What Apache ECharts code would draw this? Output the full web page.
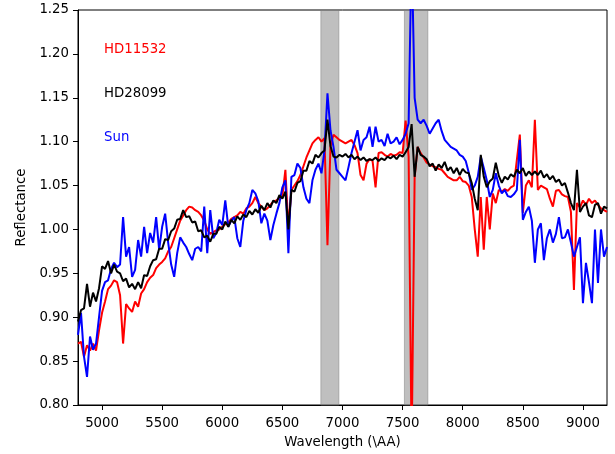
<!DOCTYPE html>
<html>
<head>
<meta charset="utf-8">
<script src="https://cdn.jsdelivr.net/npm/echarts@6.0.0/dist/echarts.min.js"></script>
<style>
  html, body { margin: 0; padding: 0; background: #fff; }
  #chart { width: 615px; height: 454px; }
</style>
</head>
<body>
<div id="chart"></div>
<script>
// wavelength grid (Å), one row per 300 Å
var wavelength = [
  4800, 4825, 4850, 4875, 4900, 4925, 4950, 4975, 5000, 5025, 5050, 5075,
  5100, 5125, 5150, 5175, 5200, 5225, 5250, 5275, 5300, 5325, 5350, 5375,
  5400, 5425, 5450, 5475, 5500, 5525, 5550, 5575, 5600, 5625, 5650, 5675,
  5700, 5725, 5750, 5775, 5800, 5825, 5850, 5875, 5900, 5925, 5950, 5975,
  6000, 6025, 6050, 6075, 6100, 6125, 6150, 6175, 6200, 6225, 6250, 6275,
  6300, 6325, 6350, 6375, 6400, 6425, 6450, 6475, 6500, 6525, 6550, 6575,
  6600, 6625, 6650, 6675, 6700, 6725, 6750, 6775, 6800, 6825, 6850, 6875,
  6900, 6925, 6950, 6975, 7000, 7025, 7050, 7075, 7100, 7125, 7150, 7175,
  7200, 7225, 7250, 7275, 7300, 7325, 7350, 7375, 7400, 7425, 7450, 7475,
  7500, 7525, 7550, 7575, 7600, 7625, 7650, 7675, 7700, 7725, 7750, 7775,
  7800, 7825, 7850, 7875, 7900, 7925, 7950, 7975, 8000, 8025, 8050, 8075,
  8100, 8125, 8150, 8175, 8200, 8225, 8250, 8275, 8300, 8325, 8350, 8375,
  8400, 8425, 8450, 8475, 8500, 8525, 8550, 8575, 8600, 8625, 8650, 8675,
  8700, 8725, 8750, 8775, 8800, 8825, 8850, 8875, 8900, 8925, 8950, 8975,
  9000, 9025, 9050, 9075, 9100, 9125, 9150, 9175, 9200
];

var hd11532 = [
  0.87, 0.872, 0.855, 0.868, 0.862, 0.87, 0.862, 0.885, 0.905, 0.918, 0.932, 0.936,
  0.942, 0.94, 0.925, 0.87, 0.915, 0.91, 0.906, 0.918, 0.912, 0.927, 0.932, 0.94,
  0.945, 0.948, 0.956, 0.96, 0.963, 0.967, 0.975, 0.98, 0.99, 1.0, 1.01, 1.016,
  1.022, 1.026, 1.025, 1.022, 1.02, 1.016, 1.01, 1.0, 0.995, 0.997, 0.999, 1.0,
  1.003, 1.006, 1.008, 1.012, 1.014, 1.016, 1.02, 1.018, 1.024, 1.026, 1.03, 1.037,
  1.03, 1.026, 1.022, 1.024, 1.028, 1.032, 1.033, 1.036, 1.038, 1.068, 1.002, 1.045,
  1.05, 1.055, 1.062, 1.072, 1.082, 1.09, 1.098, 1.102, 1.105, 1.1, 1.104, 0.982,
  1.095, 1.108, 1.105, 1.102, 1.1, 1.098, 1.1, 1.102, 1.096, 1.087, 1.062, 1.056,
  1.075, 1.08, 1.078, 1.048, 1.087, 1.088, 1.085, 1.083, 1.086, 1.084, 1.085, 1.088,
  1.087, 1.124, 1.083, 0.75, 1.06, 1.094, 1.087, 1.082, 1.076, 1.074, 1.072, 1.071,
  1.069, 1.068, 1.064, 1.06, 1.058, 1.056, 1.056, 1.06, 1.055, 1.054, 1.05, 1.037,
  1.0, 0.969, 1.037, 0.977, 1.037, 1.0, 1.041, 1.03, 1.045, 1.043, 1.046, 1.044,
  1.048, 1.05, 1.079, 1.108, 1.019, 1.05, 1.056, 1.048, 1.125, 1.045, 1.05, 1.048,
  1.046, 1.035, 1.026, 1.044, 1.045, 1.04, 1.038, 1.037, 1.02, 0.931, 1.03, 1.025,
  1.033, 1.028, 1.035, 1.03, 1.033, 1.028, 1.024, 1.022, 1.02
];

var hd28099 = [
  0.895, 0.908, 0.91, 0.938, 0.912, 0.928, 0.918, 0.933, 0.958, 0.955, 0.964, 0.95,
  0.96, 0.952, 0.95, 0.941, 0.944, 0.934, 0.938, 0.932, 0.94, 0.933, 0.948, 0.947,
  0.958, 0.965, 0.966, 0.978, 0.978, 0.989, 0.988, 0.998, 1.001, 1.011, 1.012, 1.022,
  1.014, 1.015, 1.008, 1.009, 0.998, 0.999, 0.991, 0.993, 0.986, 0.995, 0.995, 1.003,
  1.0, 1.009, 1.003, 1.011, 1.007, 1.015, 1.011, 1.017, 1.014, 1.021, 1.017, 1.023,
  1.019, 1.027, 1.022, 1.03, 1.025, 1.033, 1.03, 1.039, 1.035, 1.043, 1.0, 1.045,
  1.043, 1.053, 1.055, 1.067, 1.067, 1.078, 1.075, 1.085, 1.082, 1.087, 1.09, 1.125,
  1.095, 1.083, 1.082, 1.085, 1.083, 1.086, 1.082, 1.085, 1.08, 1.083, 1.079, 1.082,
  1.078, 1.08, 1.079, 1.082, 1.078, 1.081, 1.079, 1.083, 1.081, 1.084, 1.08, 1.085,
  1.083, 1.088, 1.094, 1.12, 1.06, 1.094, 1.085, 1.083, 1.08, 1.072, 1.075, 1.067,
  1.074, 1.07, 1.077, 1.067, 1.071, 1.064, 1.07, 1.062, 1.069, 1.065, 1.064, 1.053,
  1.035, 1.022, 1.085, 1.06, 1.048, 1.055, 1.058, 1.076, 1.061, 1.053, 1.06, 1.057,
  1.063, 1.06, 1.068, 1.064, 1.07, 1.061, 1.066, 1.062, 1.066, 1.062, 1.067, 1.059,
  1.063, 1.057, 1.061, 1.054, 1.057, 1.05, 1.053, 1.042, 1.03, 1.022, 1.068, 1.02,
  1.026, 1.03, 1.016, 1.014, 1.028, 1.03, 1.018, 1.026, 1.024
];

var sun = [
  0.88, 0.905, 0.855, 0.832, 0.878, 0.863, 0.87, 0.9, 0.93, 0.94, 0.942, 0.955,
  0.962, 0.957, 0.96, 1.014, 0.969, 0.98, 0.946, 0.954, 0.988, 0.969, 1.003, 0.973,
  0.996, 0.985, 1.014, 0.977, 1.003, 1.018, 0.985, 0.96, 0.946, 0.973, 0.991, 0.985,
  0.98, 0.972, 0.965, 0.978, 0.98, 0.975, 1.026, 0.973, 1.022, 0.99, 0.996, 1.011,
  1.005, 1.033, 1.003, 1.01, 1.014, 0.99, 0.98, 1.01, 1.022, 1.03, 1.045, 1.041,
  1.032, 1.007, 1.018, 1.01, 0.988, 1.005, 1.018, 1.03, 1.048, 1.056, 0.973, 1.06,
  1.062, 1.075, 1.07, 1.048, 1.035, 1.03, 1.056, 1.068, 1.075, 1.064, 1.09, 1.155,
  1.113, 1.094, 1.068, 1.064, 1.06, 1.056, 1.071, 1.087, 1.1, 1.113, 1.09, 1.102,
  1.105, 1.117, 1.094, 1.117, 1.1, 1.102, 1.095, 1.109, 1.098, 1.1, 1.105, 1.097,
  1.102, 1.109, 1.121, 1.32, 1.15, 1.125, 1.121, 1.125, 1.118, 1.109, 1.115, 1.121,
  1.125, 1.112, 1.102, 1.098, 1.094, 1.092, 1.09, 1.085, 1.083, 1.078, 1.065, 1.045,
  1.05, 1.06, 1.083, 1.07, 1.056, 1.037, 1.045, 1.064, 1.05, 1.041, 1.045, 1.038,
  1.037, 1.04, 1.045, 1.102, 1.011, 1.02, 1.026, 1.01, 0.962, 1.0, 1.007, 0.965,
  0.99, 1.0, 0.985, 0.995, 1.014, 0.99, 0.991, 1.0, 0.985, 0.969, 0.98, 0.991,
  0.916, 0.962, 0.94, 0.916, 1.0, 0.939, 1.0, 0.969, 0.98
];

// shaded telluric bands [start, end] in Å
var bands = [[6820, 6970], [7515, 7710]];

var xTicks = [5000, 5500, 6000, 6500, 7000, 7500, 8000, 8500, 9000];
var labels = [
  { text: 'HD11532', color: '#ff0000', at: [5000, 1.20] },
  { text: 'HD28099', color: '#000000', at: [5000, 1.15] },
  { text: 'Sun', color: '#0000ff', at: [5000, 1.10] }
];

var FONT = 'DejaVu Sans';

function pairs(vals) {
  return wavelength.map(function (w, i) { return [w, vals[i]]; });
}

var mychart = echarts.init(document.getElementById('chart'));

function lineSeries(name, vals, color, z) {
  return {
    name: name,
    type: 'line',
    data: pairs(vals),
    symbol: 'none',
    clip: true,
    z: z,
    lineStyle: { color: color, width: 2 },
    emphasis: { disabled: true }
  };
}

var option = {
  animation: false,
  backgroundColor: '#fff',
  grid: { left: 78, right: 8, top: 10, bottom: 49, show: true, borderColor: '#000', borderWidth: 1 },
  xAxis: {
    type: 'value',
    min: 4800,
    max: 9200,
    name: 'Wavelength (\\AA)',
    nameLocation: 'middle',
    nameGap: 31,
    nameTextStyle: { fontFamily: FONT, fontSize: 13.3, color: '#000' },
    axisLine: { show: true, lineStyle: { color: '#000', width: 1 } },
    axisTick: { show: true, customValues: xTicks, length: 5, lineStyle: { color: '#000' } },
    axisLabel: {
      customValues: xTicks, margin: 12, fontFamily: FONT, fontSize: 13.3, color: '#000',
      formatter: function (v) { return String(v); }
    },
    splitLine: { show: false }
  },
  yAxis: {
    type: 'value',
    min: 0.80,
    max: 1.25,
    interval: 0.05,
    name: 'Reflectance',
    nameLocation: 'middle',
    nameGap: 49,
    nameTextStyle: { fontFamily: FONT, fontSize: 13.3, color: '#000' },
    axisLine: { show: true, lineStyle: { color: '#000', width: 1 } },
    axisTick: { show: true, length: 5, lineStyle: { color: '#000' } },
    axisLabel: {
      margin: 9, fontFamily: FONT, fontSize: 13.3, color: '#000',
      formatter: function (v) { return v.toFixed(2); }
    },
    splitLine: { show: false }
  },
  series: [
    {
      type: 'line',
      data: [],
      z: 1,
      markArea: {
        silent: true,
        itemStyle: { color: 'rgba(128,128,128,0.5)', borderColor: 'rgba(128,128,128,0.5)', borderWidth: 1 },
        data: bands.map(function (b) { return [{ xAxis: b[0] }, { xAxis: b[1] }]; })
      }
    },
    lineSeries('HD11532', hd11532, '#ff0000', 2),
    lineSeries('Sun', sun, '#0000ff', 3),
    lineSeries('HD28099', hd28099, '#000000', 4)
  ]
};

mychart.setOption(option);

// text labels placed at data coordinates
mychart.setOption({
  graphic: labels.map(function (l) {
    var p = mychart.convertToPixel({ gridIndex: 0 }, l.at);
    return {
      type: 'text',
      x: p[0] + 2,
      y: p[1] + 2,
      z: 10,
      style: {
        text: l.text,
        fill: l.color,
        font: '13.3px "' + FONT + '"',
        textAlign: 'left',
        textVerticalAlign: 'bottom'
      }
    };
  })
});
</script>
</body>
</html>
